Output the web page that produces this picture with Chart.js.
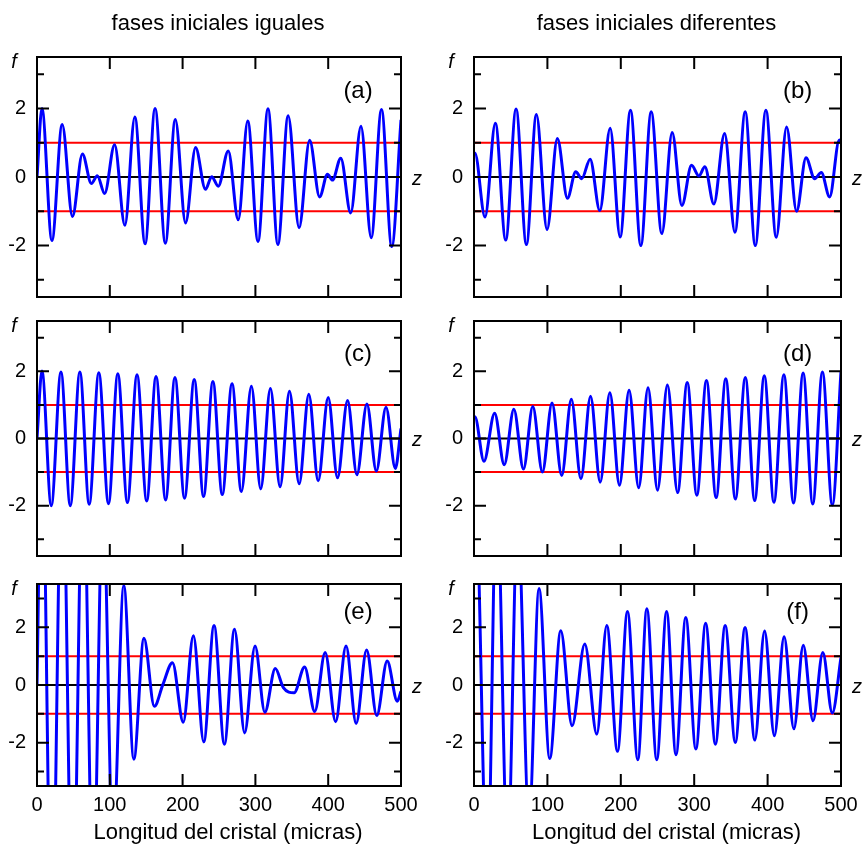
<!DOCTYPE html>
<html>
<head>
<meta charset="utf-8">
<script src="https://cdn.jsdelivr.net/npm/chart.js@4.4.1/dist/chart.umd.min.js"></script>
<style>
  html, body { margin: 0; padding: 0; background: #fff; }
  #figura { position: relative; width: 868px; height: 844px; overflow: hidden; }
  #figura canvas { position: absolute; }
</style>
</head>
<body>
<div id="figura">
  <canvas id="panel_a" width="434" height="310" style="left:0;top:0"></canvas>
  <canvas id="panel_b" width="434" height="310" style="left:434px;top:0"></canvas>
  <canvas id="panel_c" width="434" height="260" style="left:0;top:310px"></canvas>
  <canvas id="panel_d" width="434" height="260" style="left:434px;top:310px"></canvas>
  <canvas id="panel_e" width="434" height="274" style="left:0;top:570px"></canvas>
  <canvas id="panel_f" width="434" height="274" style="left:434px;top:570px"></canvas>
</div>
<script>
// posiciones z (micras) de maximos y minimos de f, y sus valores
const zA = [0, 6.8, 20.5, 34.6, 48.7, 62.4, 74.7, 82.9, 92.9, 106.6, 120.7, 134.4, 148.5, 162.2, 176.3, 190, 204.1, 217.8, 231.4, 240, 249, 262.7, 276.4, 289.5, 303.6, 317.3, 330.9, 345, 360, 374.5, 388.2, 399, 405.9, 417.3, 430.9, 445, 459.1, 473.2, 487.3, 500];
const fA = [0, 2.0, -1.85, 1.53, -1.15, 0.67, -0.19, 0.04, -0.48, 0.94, -1.41, 1.75, -1.95, 2.0, -1.93, 1.68, -1.34, 0.86, -0.36, 0.01, -0.27, 0.76, -1.25, 1.63, -1.88, 1.99, -1.97, 1.79, -1.48, 1.07, -0.58, 0.08, -0.09, 0.55, -1.05, 1.48, -1.77, 1.97, -2.03, 1.67];

const zB = [0, 1.2, 15, 29.1, 43.2, 57.3, 71.4, 85, 99.5, 113.6, 127.3, 138.6, 146.8, 158.2, 171.4, 185.5, 199.1, 213.2, 227.3, 241.4, 255.9, 270, 283.2, 296.4, 306.4, 314.5, 326.8, 341.4, 355.5, 369.5, 383.2, 397.7, 411.8, 425.9, 439.5, 452.3, 464.1, 473.2, 484.5, 497.7, 500];
const fB = [0.68, 0.7, -1.17, 1.57, -1.84, 1.98, -1.97, 1.82, -1.53, 1.12, -0.62, 0.15, -0.05, 0.52, -0.98, 1.42, -1.75, 1.95, -2.0, 1.9, -1.65, 1.3, -0.83, 0.34, 0.03, 0.3, -0.79, 1.27, -1.61, 1.9, -2.0, 1.95, -1.76, 1.46, -1.0, 0.56, -0.05, 0.13, -0.58, 1.08, 1.02];

const zC = [0, 6.8, 19.6, 32.9, 45.7, 58.9, 71.7, 84.9, 98.2, 111, 124.2, 137.4, 150.7, 163.5, 176.7, 189.5, 202.7, 216, 228.8, 241.6, 254.5, 267.9, 280.7, 294.5, 307.3, 320.6, 333.9, 346.8, 360.1, 373.4, 386.2, 400, 412.8, 426.6, 439.4, 453.2, 466.1, 479.4, 492.2, 500];
const fC = [0, 2.01, -2.0, 1.98, -2.0, 1.98, -1.96, 1.96, -1.94, 1.93, -1.91, 1.9, -1.86, 1.85, -1.83, 1.82, -1.78, 1.76, -1.73, 1.70, -1.67, 1.63, -1.58, 1.56, -1.5, 1.49, -1.44, 1.41, -1.35, 1.32, -1.26, 1.22, -1.17, 1.13, -1.08, 1.03, -0.97, 0.93, -0.89, 0.3];

const zD = [0, 1.2, 13.6, 28.1, 41.2, 54.3, 67.4, 80.1, 93.2, 106.3, 119.5, 132.6, 145.7, 158.8, 171.9, 185.1, 198.2, 211.3, 224.4, 237.1, 250, 263.5, 277.4, 290.5, 303.6, 316.7, 329.9, 343, 356.1, 369.7, 382.4, 395.5, 408.6, 422.2, 435.3, 448.4, 461.5, 474.7, 488.2, 500];
const fD = [0.64, 0.65, -0.68, 0.75, -0.78, 0.87, -0.91, 0.95, -1.0, 1.06, -1.1, 1.17, -1.2, 1.26, -1.3, 1.36, -1.39, 1.44, -1.47, 1.51, -1.54, 1.59, -1.61, 1.67, -1.69, 1.73, -1.76, 1.78, -1.8, 1.82, -1.85, 1.87, -1.9, 1.9, -1.92, 1.95, -1.95, 1.98, -1.98, 2.0];

const zE = [0, 6.5, 20.3, 34.6, 49, 63.3, 77.1, 90.5, 104.4, 119.2, 133, 146.9, 161.2, 173, 186.1, 200.9, 214.8, 229.1, 243.2, 257.4, 271.3, 285.2, 299.5, 313, 327.3, 338.4, 353.2, 367.6, 381.5, 395.8, 410.2, 424.5, 438.4, 452.8, 466.7, 481, 494.9, 500];
const fE = [0, 9, -9, 8.5, -8.5, 8, -7.3, 6.5, -5.5, 3.45, -2.57, 1.62, -0.74, 0.02, 0.77, -1.29, 1.71, -1.97, 2.06, -2.05, 1.93, -1.66, 1.35, -0.94, 0.57, -0.09, -0.27, 0.62, -0.92, 1.13, -1.27, 1.35, -1.33, 1.21, -1.06, 0.83, -0.56, -0.22];

const zF = [0, 2, 18.2, 30.9, 45.9, 59.5, 75, 88.6, 103.2, 118.2, 133.6, 150.9, 167.3, 180.9, 195.5, 209.1, 223.2, 235.5, 249, 262.4, 275.2, 288.5, 302.3, 315.6, 328.9, 342.2, 356, 369.3, 382.6, 395.9, 409.2, 422.5, 435.8, 448.6, 461.9, 475.2, 488.1, 500];
const fF = [6.3, 6.5, -6.8, 6.8, -5.8, 5.8, -4.7, 3.34, -2.55, 1.88, -1.41, 1.42, -1.7, 2.06, -2.3, 2.55, -2.59, 2.64, -2.59, 2.55, -2.42, 2.34, -2.22, 2.14, -2.05, 2.06, -1.99, 1.99, -1.91, 1.87, -1.76, 1.67, -1.52, 1.38, -1.24, 1.13, -0.97, 0.95];

// niveles de referencia y marcas de los ejes
const umbral = [1, -1];
const cero = 0;
const marcasZ = [0, 100, 200, 300, 400, 500];
const marcasF = [-3, -2, -1, 0, 1, 2, 3];
const etiquetasF = [-2, 0, 2];

const FUENTE = '"Liberation Sans", Arial, Helvetica, sans-serif';

// marco, marcas hacia dentro y textos de cada panel
const decorado = {
  id: 'decorado',
  afterDatasetsDraw(chart, args, opts) {
    const { ctx, chartArea: a, scales: { x, y } } = chart;
    ctx.save();
    ctx.strokeStyle = '#000';
    ctx.lineWidth = 2;
    ctx.beginPath();
    marcasZ.forEach(v => {
      const px = x.getPixelForValue(v);
      ctx.moveTo(px, a.top); ctx.lineTo(px, a.top + 12);
      ctx.moveTo(px, a.bottom); ctx.lineTo(px, a.bottom - 12);
    });
    marcasF.forEach(v => {
      const py = y.getPixelForValue(v);
      const largo = v % 2 === 0 ? 12 : 7;
      ctx.moveTo(a.left, py); ctx.lineTo(a.left + largo, py);
      ctx.moveTo(a.right, py); ctx.lineTo(a.right - largo, py);
    });
    ctx.stroke();
    ctx.strokeRect(a.left, a.top, a.right - a.left, a.bottom - a.top);

    ctx.fillStyle = '#000';
    ctx.textBaseline = 'middle';
    ctx.font = '20px ' + FUENTE;
    ctx.textAlign = 'right';
    etiquetasF.forEach(v => ctx.fillText(String(v), a.left - 11, y.getPixelForValue(v)));

    ctx.font = 'italic 20px ' + FUENTE;
    ctx.textAlign = 'center';
    ctx.fillText('f', a.left - 23, a.top + 5);
    ctx.fillText('z', a.right + 16, y.getPixelForValue(0) + 2);

    ctx.font = '24px ' + FUENTE;
    ctx.fillText(opts.letra, x.getPixelForValue(441), y.getPixelForValue(2.5));

    const centro = (a.left + a.right) / 2;
    if (opts.titulo) {
      ctx.font = '22px ' + FUENTE;
      ctx.fillText(opts.titulo, centro - 1, a.top - 33);
    }
    if (opts.ejeX) {
      ctx.font = '20px ' + FUENTE;
      marcasZ.forEach(v => ctx.fillText(String(v), x.getPixelForValue(v), a.bottom + 19));
      ctx.font = '22px ' + FUENTE;
      ctx.fillText('Longitud del cristal (micras)', centro + 9, a.bottom + 47);
    }
    ctx.restore();
  }
};

function puntos(zs, fs) {
  return zs.map((z, i) => ({ x: z, y: fs[i] }));
}

function horizontal(valor) {
  return [{ x: 0, y: valor }, { x: 500, y: valor }];
}

function crearPanel(id, zs, fs, relleno, decor) {
  return new Chart(document.getElementById(id), {
    type: 'line',
    data: {
      datasets: [
        {
          data: puntos(zs, fs),
          borderColor: '#0000ff',
          borderWidth: 3,
          cubicInterpolationMode: 'monotone',
          pointRadius: 0
        },
        { data: horizontal(cero), borderColor: '#000', borderWidth: 2, pointRadius: 0 },
        { data: horizontal(umbral[0]), borderColor: '#ff0000', borderWidth: 2, pointRadius: 0 },
        { data: horizontal(umbral[1]), borderColor: '#ff0000', borderWidth: 2, pointRadius: 0 }
      ]
    },
    options: {
      responsive: false,
      animation: false,
      layout: { padding: relleno },
      scales: {
        x: { type: 'linear', min: 0, max: 500, display: false },
        y: { type: 'linear', min: -3.5, max: 3.5, display: false }
      },
      plugins: {
        legend: { display: false },
        tooltip: { enabled: false },
        decorado: decor
      }
    },
    plugins: [decorado]
  });
}

// columna izquierda: plot de x=37 a 401; derecha: de 474 a 841
const izq = { left: 37, right: 33 };
const der = { left: 40, right: 27 };

crearPanel('panel_a', zA, fA, { ...izq, top: 57, bottom: 13 }, { letra: '(a)', titulo: 'fases iniciales iguales' });
crearPanel('panel_b', zB, fB, { ...der, top: 57, bottom: 13 }, { letra: '(b)', titulo: 'fases iniciales diferentes' });
crearPanel('panel_c', zC, fC, { ...izq, top: 11, bottom: 14 }, { letra: '(c)' });
crearPanel('panel_d', zD, fD, { ...der, top: 11, bottom: 14 }, { letra: '(d)' });
crearPanel('panel_e', zE, fE, { ...izq, top: 14, bottom: 58 }, { letra: '(e)', ejeX: true });
crearPanel('panel_f', zF, fF, { ...der, top: 14, bottom: 58 }, { letra: '(f)', ejeX: true });
</script>
</body>
</html>
